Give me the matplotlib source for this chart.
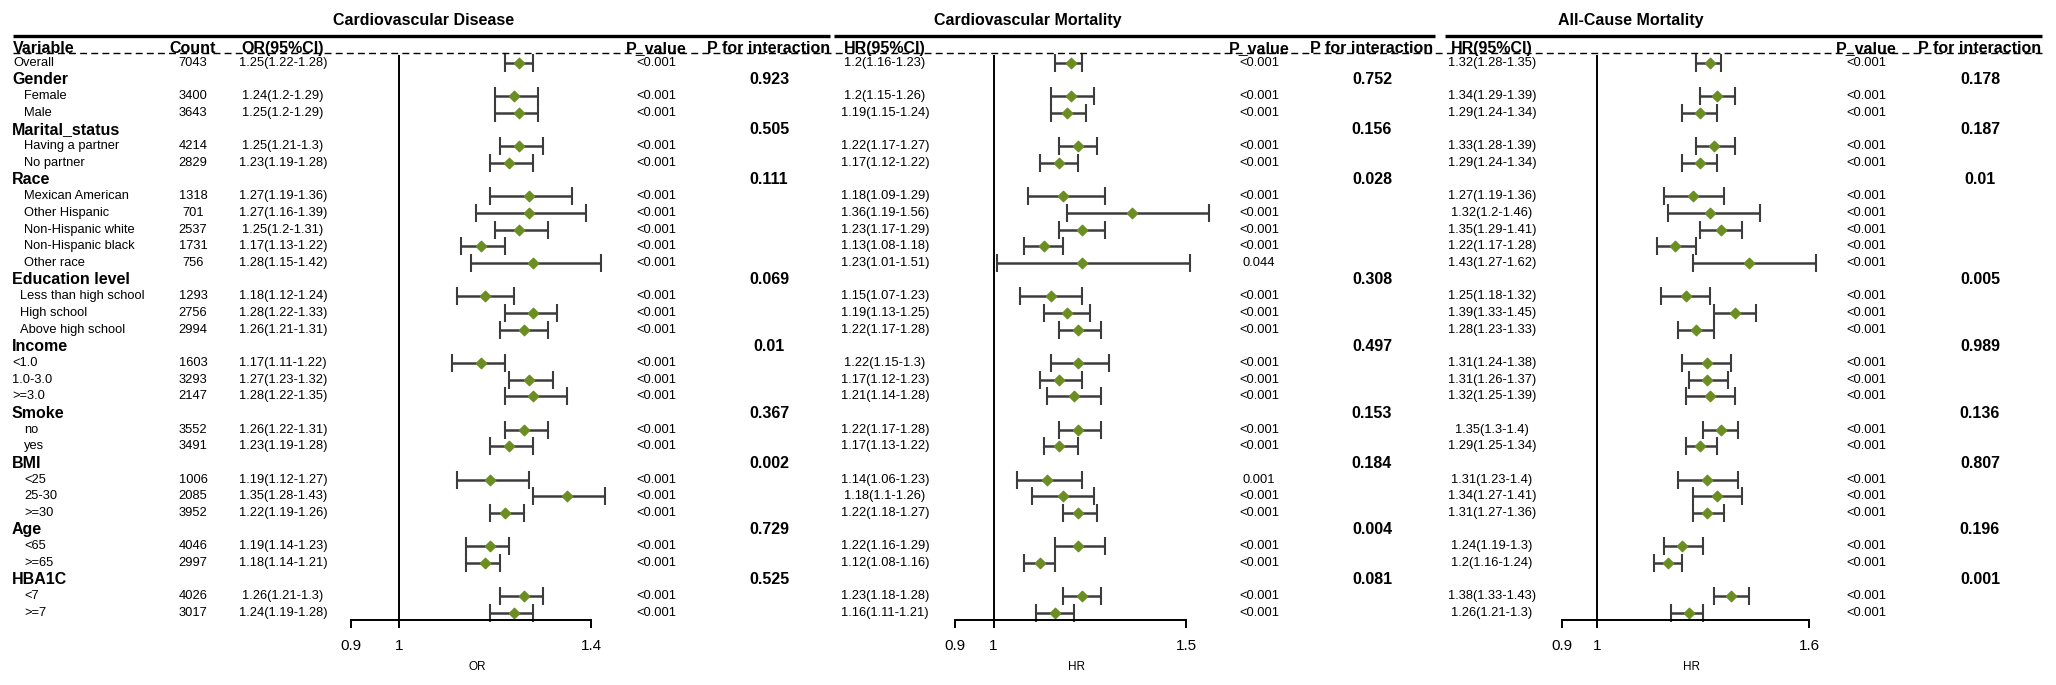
import numpy as np
import matplotlib
matplotlib.use("Agg")
import matplotlib.pyplot as plt

W, H = 2056, 685
plt.rcParams["font.family"] = ["Liberation Sans", "DejaVu Sans"]

# ---- table rows ----
row_labels = ["Overall", "Gender", "Female", "Male", "Marital_status", "Having a partner", "No partner",
              "Race", "Mexican American", "Other Hispanic", "Non-Hispanic white", "Non-Hispanic black",
              "Other race", "Education level", "Less than high school", "High school", "Above high school",
              "Income", "<1.0", "1.0-3.0", ">=3.0", "Smoke", "no", "yes", "BMI", "<25", "25-30", ">=30",
              "Age", "<65", ">=65", "HBA1C", "<7", ">=7"]
group_labels = ["Gender", "Marital_status", "Race", "Education level", "Income", "Smoke", "BMI", "Age", "HBA1C"]

# values for Overall + every subgroup row (in row order)
counts = [7043, 3400, 3643, 4214, 2829, 1318, 701, 2537, 1731, 756, 1293, 2756, 2994,
          1603, 3293, 2147, 3552, 3491, 1006, 2085, 3952, 4046, 2997, 4026, 3017]

cvd_est = [1.25, 1.24, 1.25, 1.25, 1.23, 1.27, 1.27, 1.25, 1.17, 1.28, 1.18, 1.28, 1.26,
           1.17, 1.27, 1.28, 1.26, 1.23, 1.19, 1.35, 1.22, 1.19, 1.18, 1.26, 1.24]
cvd_lo = [1.22, 1.2, 1.2, 1.21, 1.19, 1.19, 1.16, 1.2, 1.13, 1.15, 1.12, 1.22, 1.21,
          1.11, 1.23, 1.22, 1.22, 1.19, 1.12, 1.28, 1.19, 1.14, 1.14, 1.21, 1.19]
cvd_hi = [1.28, 1.29, 1.29, 1.3, 1.28, 1.36, 1.39, 1.31, 1.22, 1.42, 1.24, 1.33, 1.31,
          1.22, 1.32, 1.35, 1.31, 1.28, 1.27, 1.43, 1.26, 1.23, 1.21, 1.3, 1.28]
cvd_p = ["<0.001"] * 25
cvd_pint = ["0.923", "0.505", "0.111", "0.069", "0.01", "0.367", "0.002", "0.729", "0.525"]

cvm_est = [1.2, 1.2, 1.19, 1.22, 1.17, 1.18, 1.36, 1.23, 1.13, 1.23, 1.15, 1.19, 1.22,
           1.22, 1.17, 1.21, 1.22, 1.17, 1.14, 1.18, 1.22, 1.22, 1.12, 1.23, 1.16]
cvm_lo = [1.16, 1.15, 1.15, 1.17, 1.12, 1.09, 1.19, 1.17, 1.08, 1.01, 1.07, 1.13, 1.17,
          1.15, 1.12, 1.14, 1.17, 1.13, 1.06, 1.1, 1.18, 1.16, 1.08, 1.18, 1.11]
cvm_hi = [1.23, 1.26, 1.24, 1.27, 1.22, 1.29, 1.56, 1.29, 1.18, 1.51, 1.23, 1.25, 1.28,
          1.3, 1.23, 1.28, 1.28, 1.22, 1.23, 1.26, 1.27, 1.29, 1.16, 1.28, 1.21]
cvm_p = ["<0.001"] * 9 + ["0.044"] + ["<0.001"] * 8 + ["0.001"] + ["<0.001"] * 6
cvm_pint = ["0.752", "0.156", "0.028", "0.308", "0.497", "0.153", "0.184", "0.004", "0.081"]

acm_est = [1.32, 1.34, 1.29, 1.33, 1.29, 1.27, 1.32, 1.35, 1.22, 1.43, 1.25, 1.39, 1.28,
           1.31, 1.31, 1.32, 1.35, 1.29, 1.31, 1.34, 1.31, 1.24, 1.2, 1.38, 1.26]
acm_lo = [1.28, 1.29, 1.24, 1.28, 1.24, 1.19, 1.2, 1.29, 1.17, 1.27, 1.18, 1.33, 1.23,
          1.24, 1.26, 1.25, 1.3, 1.25, 1.23, 1.27, 1.27, 1.19, 1.16, 1.33, 1.21]
acm_hi = [1.35, 1.39, 1.34, 1.39, 1.34, 1.36, 1.46, 1.41, 1.28, 1.62, 1.32, 1.45, 1.33,
          1.38, 1.37, 1.39, 1.4, 1.34, 1.4, 1.41, 1.36, 1.3, 1.24, 1.43, 1.3]
acm_p = ["<0.001"] * 25
acm_pint = ["0.178", "0.187", "0.01", "0.005", "0.989", "0.136", "0.807", "0.196", "0.001"]

cvd_ticks = [0.9, 1, 1.4]
cvm_ticks = [0.9, 1, 1.5]
acm_ticks = [0.9, 1, 1.6]

# ---- layout (pixels) ----
ROW0, STEP = 63, 16.67
Y_TOP, Y_AXIS = 55, 620
GREEN = "#6B8E23"
GREY = "#3c3c3c"
diamond = [(-1, 0), (0, 1), (1, 0), (0, -1), (-1, 0)]
ROW_FS, SUM_FS = 9.3, 11.5


def ypx(i):
    return ROW0 + STEP * i


data_rows = [i for i, r in enumerate(row_labels) if r not in group_labels]
group_rows = [i for i, r in enumerate(row_labels) if r in group_labels]

fig = plt.figure(figsize=(W / 100, H / 100), dpi=100)
tax = fig.add_axes([0, 0, 1, 1])
tax.set_xlim(0, W)
tax.set_ylim(H, 0)
tax.axis("off")

# left label / count columns
for i, lab in enumerate(row_labels):
    if lab in group_labels:
        tax.text(12, ypx(i), lab, fontsize=SUM_FS, fontweight="bold", va="center", ha="left")
    else:
        if lab == "Overall":
            x = 13
        elif lab in ("<1.0", "1.0-3.0", ">=3.0"):
            x = 12
        elif lab in ("Less than high school", "High school", "Above high school"):
            x = 20
        else:
            x = 24
        tax.text(x, ypx(i), lab, fontsize=ROW_FS, va="center", ha="left")
for i, c in zip(data_rows, counts):
    tax.text(193, ypx(i), str(c), fontsize=ROW_FS, va="center", ha="center")

# header row and dashed rule
tax.plot([13, 2042], [53, 53], color="black", lw=1.0, ls=(0, (5, 3)))
hdr = dict(fontsize=SUM_FS, fontweight="bold", va="baseline")
tax.text(13, 53, "Variable", ha="left", **hdr)
tax.text(193, 53, "Count", ha="center", **hdr)

panels = [
    dict(title="Cardiovascular Disease", metric="OR", est=cvd_est, lo=cvd_lo, hi=cvd_hi, p=cvd_p,
         pint=cvd_pint, ticks=cvd_ticks, x0=351, x1=591, title_x=424, ci_x=283, p_x=656, pint_x=769,
         rule=(13, 830)),
    dict(title="Cardiovascular Mortality", metric="HR", est=cvm_est, lo=cvm_lo, hi=cvm_hi, p=cvm_p,
         pint=cvm_pint, ticks=cvm_ticks, x0=955, x1=1186, title_x=1028, ci_x=885, p_x=1259, pint_x=1372,
         rule=(834, 1435)),
    dict(title="All-Cause Mortality", metric="HR", est=acm_est, lo=acm_lo, hi=acm_hi, p=acm_p,
         pint=acm_pint, ticks=acm_ticks, x0=1562, x1=1809, title_x=1631, ci_x=1492, p_x=1866, pint_x=1980,
         rule=(1445, 2042)),
]

r_top = (Y_TOP - ROW0) / STEP
r_bot = (Y_AXIS - ROW0) / STEP

for pn in panels:
    est = np.array(pn["est"])
    lo = np.array(pn["lo"])
    hi = np.array(pn["hi"])
    rows = np.array(data_rows)

    tax.text(pn["title_x"], 20, pn["title"], fontsize=11.5, fontweight="bold", ha="center", va="center")
    tax.plot(pn["rule"], [36, 36], color="black", lw=2.4, solid_capstyle="butt")
    tax.text(pn["ci_x"], 53, pn["metric"] + "(95%CI)", ha="center", **hdr)
    tax.text(pn["p_x"], 53, "P_value", ha="center", **hdr)
    tax.text(pn["pint_x"], 53, "P for interaction", ha="center", **hdr)

    for i, e, l, h, p in zip(rows, est, lo, hi, pn["p"]):
        tax.text(pn["ci_x"], ypx(i), f"{e:g}({l:g}-{h:g})", fontsize=ROW_FS, ha="center", va="center")
        tax.text(pn["p_x"], ypx(i), p, fontsize=ROW_FS, ha="center", va="center")
    for i, v in zip(group_rows, pn["pint"]):
        tax.text(pn["pint_x"], ypx(i), v, fontsize=SUM_FS, fontweight="bold", ha="center", va="center")

    ax = fig.add_axes([pn["x0"] / W, (H - Y_AXIS) / H, (pn["x1"] - pn["x0"]) / W, (Y_AXIS - Y_TOP) / H])
    ax.set_xlim(pn["ticks"][0], pn["ticks"][-1])
    ax.set_ylim(r_bot, r_top)
    ax.patch.set_alpha(0)
    for s in ("left", "right", "top"):
        ax.spines[s].set_visible(False)
    ax.spines["bottom"].set_linewidth(1.4)
    ax.set_yticks([])
    ax.set_xticks(pn["ticks"])
    ax.set_xticklabels([f"{t:g}" for t in pn["ticks"]], fontsize=11)
    ax.tick_params(axis="x", direction="out", length=6, width=1.4, pad=8)
    ax.axvline(1, color="black", lw=1.4)

    ax.errorbar(est, rows, xerr=[est - lo, hi - est], fmt="none", ecolor=GREY, elinewidth=1.8,
                capsize=6.5, capthick=1.5, clip_on=False)
    ax.plot(est, rows, ls="none", marker=diamond, markersize=7.5, color=GREEN, clip_on=False)

    tax.text((pn["x0"] + pn["x1"]) / 2 + 6, 667, pn["metric"], fontsize=8.5, ha="center", va="center")

fig.savefig("out.png", dpi=100)
